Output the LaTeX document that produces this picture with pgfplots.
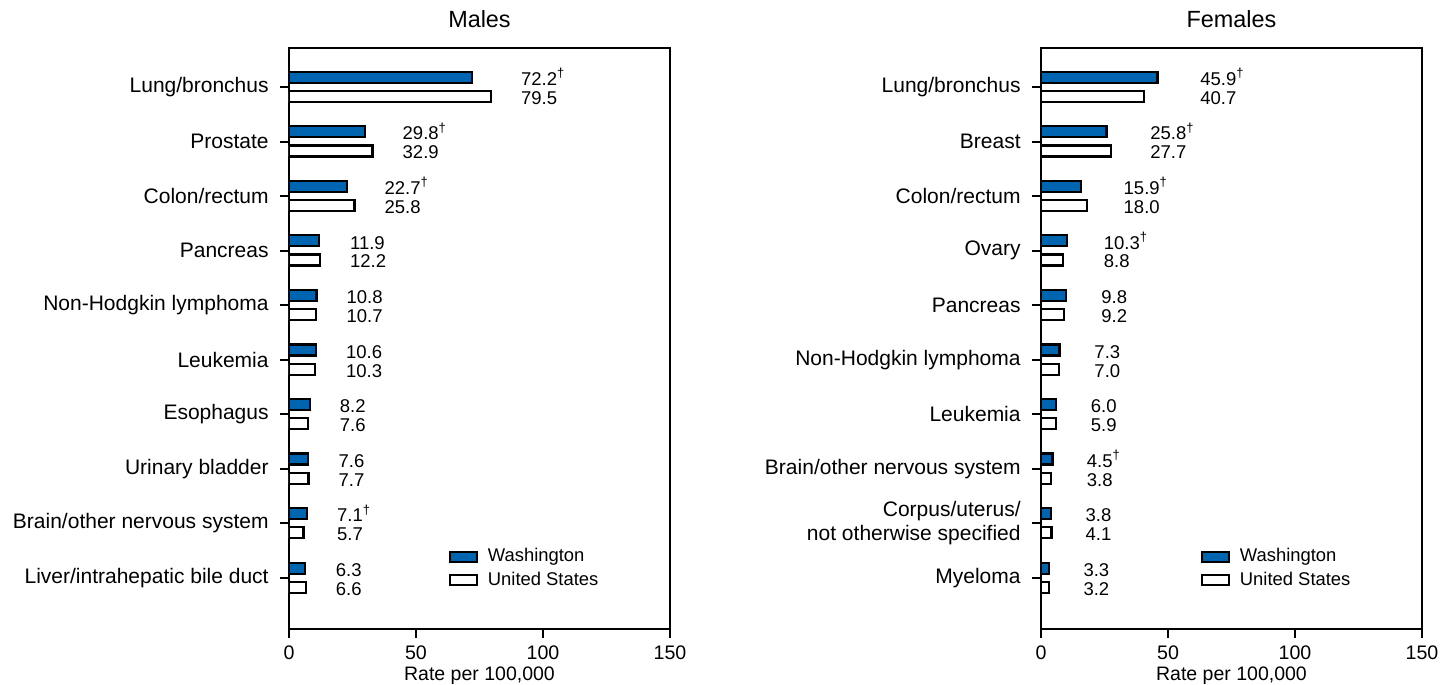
\documentclass[border=0pt]{standalone}
\usepackage{pgfplots}
\pgfplotsset{compat=1.18}
\usepackage{pgfplotstable}
\usepackage{fontspec}
\setmainfont{Liberation Sans}

\definecolor{wablue}{RGB}{0,101,176}
\newcommand\dg{\textsuperscript{†}}

% y: category position, wa/us: rates, lx: where the value labels start
\pgfplotstableread{
y  wa    us    lx     lwa          lus
9  72.2  79.5  91.2   72.2\dg{}    79.5
8  29.8  32.9  44.6   29.8\dg{}    32.9
7  22.7  25.8  37.5   22.7\dg{}    25.8
6  11.9  12.2  23.9   11.9         12.2
5  10.8  10.7  22.5   10.8         10.7
4  10.6  10.3  22.3   10.6         10.3
3  8.2   7.6   19.9   8.2          7.6
2  7.6   7.7   19.4   7.6          7.7
1  7.1   5.7   18.8   7.1\dg{}     5.7
0  6.3   6.6   18.3   6.3          6.6
}\males

\pgfplotstableread{
y  wa    us    lx     lwa          lus
9  45.9  40.7  62.6   45.9\dg{}    40.7
8  25.8  27.7  42.9   25.8\dg{}    27.7
7  15.9  18.0  32.4   15.9\dg{}    18.0
6  10.3  8.8   24.6   10.3\dg{}    8.8
5  9.8   9.2   23.6   9.8          9.2
4  7.3   7.0   20.9   7.3          7.0
3  6.0   5.9   19.5   6.0          5.9
2  4.5   3.8   17.9   4.5\dg{}     3.8
1  3.8   4.1   17.4   3.8          4.1
0  3.3   3.2   16.6   3.3          3.2
}\females

\pgfplotsset{
  panel/.style={
    scale only axis,
    width=190.5pt, height=290.5pt,
    xmin=0, xmax=150, ymin=-0.935, ymax=9.715,
    xtick={0,50,100,150},
    ytick={0,...,9},
    xtick pos=bottom, ytick pos=left,
    tick align=outside,
    major tick length=4.5pt,
    axis line style={line width=1pt},
    every tick/.style={black, line width=1pt},
    /pgf/number format/assume math mode=true,
    xticklabel style={font=\fontsize{9.8}{11}\selectfont, inner sep=0pt, yshift=-3.5pt},
    yticklabel style={font=\fontsize{10.5}{12}\selectfont, align=right, inner sep=0pt, xshift=-5.5pt},
    xlabel={Rate per 100,000},
    xlabel style={font=\fontsize{9.75}{11}\selectfont, at={(0.5,0)}, anchor=base, yshift=-25.5pt},
    title style={font=\fontsize{11.7}{13}\selectfont, at={(0.5,1)}, anchor=base, yshift=4.5pt},
    legend style={draw=none, fill=none, at={(0.408,0.153)}, anchor=north west,
      font=\fontsize{9.2}{11}\selectfont, row sep=-0.5pt, inner sep=2pt},
    legend cell align=left,
    legend image code/.code={\draw[#1, line width=1pt] (0pt,-2.5pt) rectangle (13.5pt,2.5pt);
      \path (16.5pt,0pt);},
  },
  wabar/.style={xbar, bar width=5.5pt, bar shift=4.9pt, draw=black, line width=1.1pt, fill=wablue},
  usbar/.style={xbar, bar width=5.5pt, bar shift=-4.7pt, draw=black, line width=1.1pt, fill=white},
  vlab/.style={draw=none, mark=none, forget plot, nodes near coords,
    point meta=explicit symbolic,
    nodes near coords style={anchor=base west, inner sep=0pt, text=black,
      font=\fontsize{9.25}{11}\selectfont}},
}

\begin{document}
\begin{tikzpicture}
\begin{axis}[panel, title={Males},
  yticklabels={Liver/intrahepatic bile duct, Brain/other nervous system, Urinary bladder,
    Esophagus, Leukemia, Non-Hodgkin lymphoma, Pancreas, Colon/rectum, Prostate, Lung/bronchus}]
\addplot[wabar] table[x=wa, y=y] \males;
\addlegendentry{Washington}
\addplot[usbar] table[x=us, y=y] \males;
\addlegendentry{United States}
\addplot[vlab] table[x=lx, y expr=\thisrow{y}+0.03, meta=lwa] \males;
\addplot[vlab] table[x=lx, y expr=\thisrow{y}-0.317, meta=lus] \males;
\end{axis}

\begin{axis}[panel, title={Females}, xshift=376pt,
  yticklabels={Myeloma, {Corpus/uterus/\\not otherwise specified}, Brain/other nervous system,
    Leukemia, Non-Hodgkin lymphoma, Pancreas, Ovary, Colon/rectum, Breast, Lung/bronchus}]
\addplot[wabar] table[x=wa, y=y] \females;
\addlegendentry{Washington}
\addplot[usbar] table[x=us, y=y] \females;
\addlegendentry{United States}
\addplot[vlab] table[x=lx, y expr=\thisrow{y}+0.03, meta=lwa] \females;
\addplot[vlab] table[x=lx, y expr=\thisrow{y}-0.317, meta=lus] \females;
\end{axis}
\pgfresetboundingbox
\useasboundingbox (-144.5pt,-28pt) rectangle (583.5pt,314.5pt);
\end{tikzpicture}
\end{document}
